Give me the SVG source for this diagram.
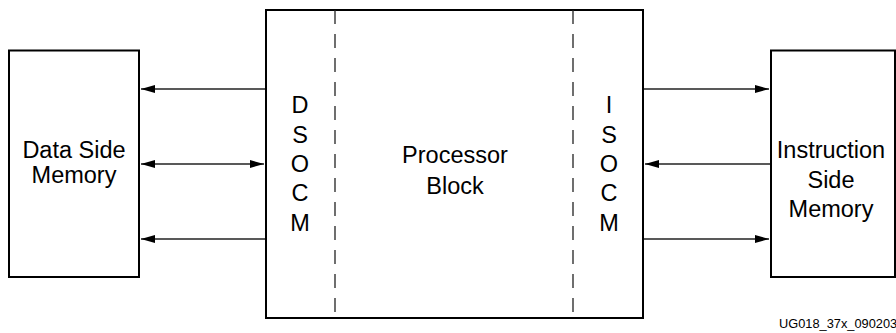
<svg xmlns="http://www.w3.org/2000/svg" width="896" height="333" viewBox="0 0 896 333">
<defs>
<style>
.box{fill:#fff;stroke:#000;stroke-width:2}
.dash{stroke:#222;stroke-width:1.3;stroke-dasharray:14 10;fill:none}
.conn{stroke:#222;stroke-width:1.3;fill:none}
.t{font-family:"Liberation Sans",Arial,sans-serif;font-size:23.5px;fill:#000;text-anchor:middle}
.lab{font-family:"Liberation Sans",Arial,sans-serif;font-size:12.8px;fill:#000}
</style>
<marker id="ah" viewBox="0 0 14 8" refX="14" refY="4" markerWidth="14" markerHeight="8" markerUnits="userSpaceOnUse" orient="auto-start-reverse">
<path d="M0,0 L14,4 L0,8 Z" fill="#000"/>
</marker>
</defs>
<rect width="896" height="333" fill="#fff"/>
<g id="data-side-memory">
<rect class="box" x="9" y="50.5" width="130" height="226.5"/>
<text class="t" x="74" y="158">Data Side</text>
<text class="t" x="74" y="183">Memory</text>
</g>
<g id="processor-block">
<rect class="box" x="266" y="10" width="377" height="308"/>
<line class="dash" x1="335" y1="10" x2="335" y2="318"/>
<line class="dash" x1="573" y1="10" x2="573" y2="318"/>
<text class="t" x="455" y="163">Processor</text>
<text class="t" x="455" y="194">Block</text>
</g>
<g id="dsocm">
<text class="t" x="300" y="113">D</text>
<text class="t" x="300" y="142.5">S</text>
<text class="t" x="300" y="172">O</text>
<text class="t" x="300" y="201">C</text>
<text class="t" x="300" y="231">M</text>
</g>
<g id="isocm">
<text class="t" x="609" y="113">I</text>
<text class="t" x="609" y="142.5">S</text>
<text class="t" x="609" y="172">O</text>
<text class="t" x="609" y="201">C</text>
<text class="t" x="609" y="231">M</text>
</g>
<g id="instruction-side-memory">
<rect class="box" x="771" y="50.5" width="124" height="226.5"/>
<text class="t" x="831" y="158">Instruction</text>
<text class="t" x="831" y="188">Side</text>
<text class="t" x="831" y="217">Memory</text>
</g>
<g id="connectors">
<line class="conn" x1="265" y1="89" x2="141" y2="89" marker-end="url(#ah)"/>
<line class="conn" x1="141" y1="164" x2="264" y2="164" marker-start="url(#ah)" marker-end="url(#ah)"/>
<line class="conn" x1="265" y1="239" x2="141" y2="239" marker-end="url(#ah)"/>
<line class="conn" x1="644" y1="89" x2="769" y2="89" marker-end="url(#ah)"/>
<line class="conn" x1="770" y1="164" x2="645" y2="164" marker-end="url(#ah)"/>
<line class="conn" x1="644" y1="239" x2="769" y2="239" marker-end="url(#ah)"/>
</g>
<text class="lab" x="779" y="328">UG018_37x_090203</text>
</svg>
